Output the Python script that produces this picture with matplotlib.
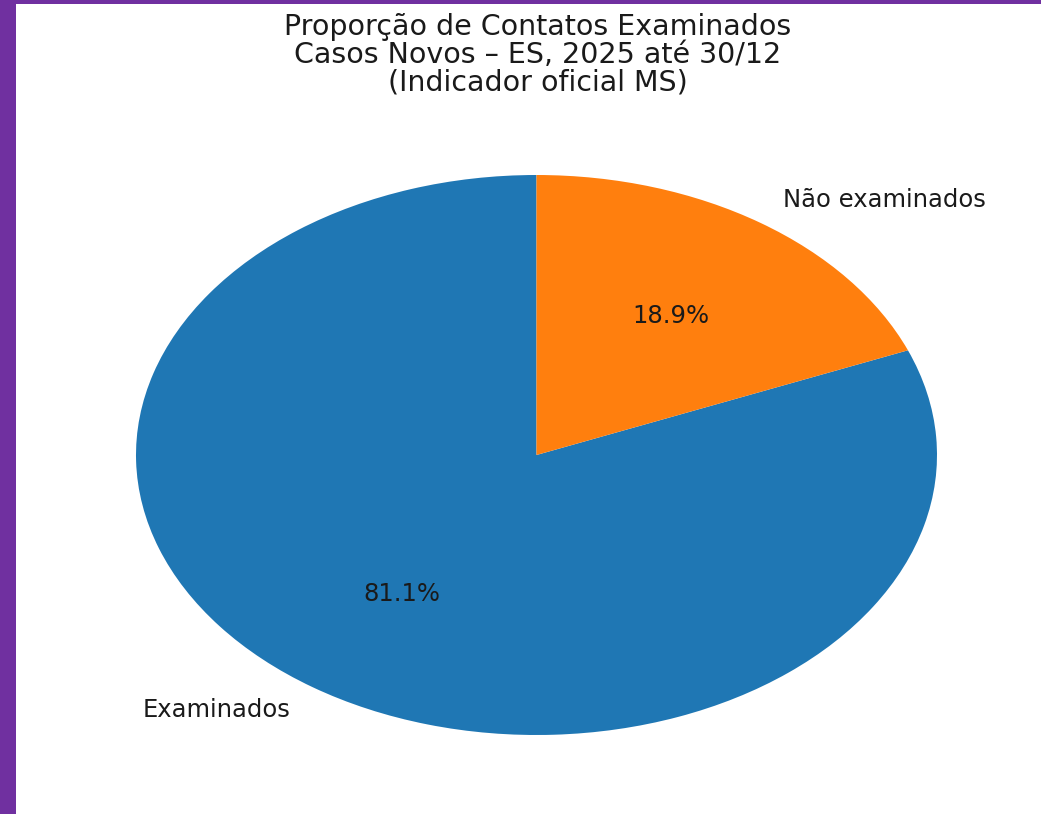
import matplotlib.pyplot as plt
from matplotlib.patches import Rectangle

labels = ['Examinados', 'Não examinados']
values = [81.1, 18.9]
colors = ['#1f77b4', '#ff7f0e']
title = 'Proporção de Contatos Examinados\nCasos Novos – ES, 2025 até 30/12\n(Indicador oficial MS)'

W, H = 1041, 814
fig = plt.figure(figsize=(W / 100, H / 100), dpi=100)
fig.patch.set_facecolor('#7030a0')
# white page inside the purple frame (left and top strips)
fig.add_artist(Rectangle((16 / W, 0), 1 - 16 / W, 1 - 4 / H,
                         transform=fig.transFigure, facecolor='white',
                         edgecolor='none', zorder=0))

# the picture is stretched sideways, so the pie is an ellipse
ax = fig.add_axes([136 / W, (H - 735) / H, 801 / W, 560 / H])
ax.pie(values, labels=labels, colors=colors, autopct='%1.1f%%',
       startangle=90, textprops=dict(fontsize=17.5, color='#1a1a1a'))
ax.set_aspect('auto')
ax.set_xlim(-1, 1)
ax.set_ylim(-1, 1)
ax.axis('off')

fig.text(538 / W, 1 - 13 / H, title, ha='center', va='top',
         fontsize=20.5, color='#1a1a1a', linespacing=0.98)

fig.savefig('out.png', dpi=100, facecolor=fig.get_facecolor())
